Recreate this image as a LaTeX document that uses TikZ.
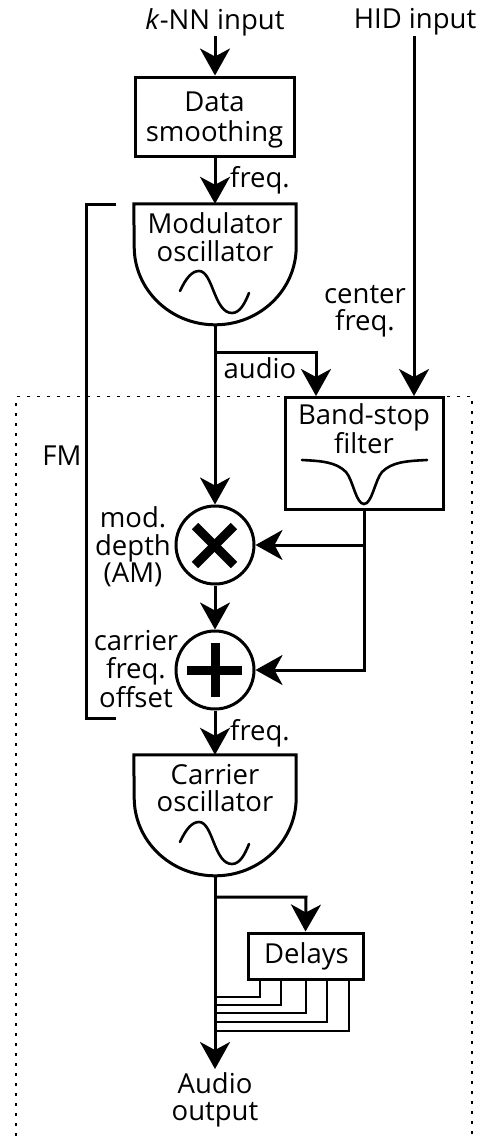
\documentclass[tikz,border=0pt]{standalone}
\usepackage{fontspec}
\setmainfont{Open Sans}
\usetikzlibrary{arrows.meta}
\tikzset{
  wire/.style={line width=3pt,line join=miter},
  flow/.style={wire,-{Stealth[length=27pt,width=30pt,inset=8pt]},shorten >=0pt},
  thin wire/.style={line width=2.4pt},
  lbl/.style={inner sep=0pt,align=center,font=\fontsize{27.5}{27.5}\selectfont},
  boxed/.style={draw,line width=3pt,inner sep=0pt,minimum width=#1},
  osc/.style={inner sep=0pt,minimum width=162pt,minimum height=121pt},
  sum/.style={circle,draw,line width=3pt,inner sep=0pt,minimum size=78pt,fill=white},
  glyph/.style={line width=9pt},
  curve/.style={line width=2.6pt,line cap=round},
  region/.style={line width=1.2pt,dash pattern=on 3pt off 7pt},
}
\begin{document}
\begin{tikzpicture}[x=1pt,y=-1pt]
\useasboundingbox (0,0) rectangle (486,1136);
% dotted region
\draw[region] (16,1136) -- (16,396.5) -- (472,396.5) -- (472,1136);
% FM bracket
\draw[wire] (116,204) -- (86,204) -- (86,718) -- (116,718);
\node[lbl] (fm) at (62,456) {FM};
% inputs
\node[lbl] (knn) at (215,22) {\textit{k}-NN input};
\node[lbl] (hid) at (415,22) {HID input};
% Data smoothing
\node[boxed=159pt,minimum height=79pt] (smooth) at (214.5,116.5) {};
\node[lbl,font=\fontsize{27.5}{29.5}\selectfont] (smootht) at (214.5,120) {Data\\smoothing};
% Modulator
\node[osc] (mod) at (215,264.5) {};
\draw[wire] (mod.north west) -- (mod.north east) -- ++(0,43) arc[start angle=0,end angle=-180,x radius=81pt,y radius=78pt] -- cycle;
\node[lbl] (modt) at (215,237) {Modulator\\oscillator};
\draw[curve] (180,291) .. controls (186,278) and (192,271) .. (199,271) .. controls (213,271) and (214,313) .. (232,313) .. controls (240,313) and (245,303) .. (249,293);
% band-stop
\node[boxed=158pt,minimum height=112pt] (bs) at (364,453) {};
\node[lbl] (bst) at (364,429) {Band-stop\\filter};
\draw[curve] (302,460) .. controls (322,461) and (336,462) .. (346,472) .. controls (353,480) and (356,504) .. (364,504) .. controls (372,504) and (375,480) .. (382,472) .. controls (392,462) and (406,461) .. (427,460);
% circles
\node[sum] (mul) at (215,545) {};
\node[sum] (add) at (215,670) {};
\draw[glyph] (195,526) -- (234,565);
\draw[glyph] (234,526) -- (195,565);
\draw[glyph] (187,670) -- (242,670);
\draw[glyph] (215,643) -- (215,697);
% labels
\node[lbl] (audio) at (260,368) {audio};
\node[lbl] (cf) at (365,311) {center\\freq.};
\node[lbl] (md) at (133,547) {mod.\\depth\\(AM)};
\node[lbl] (ofs) at (136,669) {carrier\\freq.\\offset};
\node[lbl] (f1) at (260,180) {freq.};
\node[lbl] (f2) at (260,733) {freq.};
% Carrier
\node[osc] (car) at (215,815.5) {};
\draw[wire] (car.north west) -- (car.north east) -- ++(0,43) arc[start angle=0,end angle=-180,x radius=81pt,y radius=78pt] -- cycle;
\node[lbl] (cart) at (215,788) {Carrier\\oscillator};
\draw[curve] (180,842) .. controls (186,829) and (192,822) .. (199,822) .. controls (213,822) and (214,864) .. (232,864) .. controls (240,864) and (245,854) .. (249,844);
% Delays
\node[boxed=115pt,minimum height=46pt] (del) at (305.5,956) {};
\node[lbl] (delt) at (306.5,956) {Delays};
% output
\node[lbl] (out) at (215,1100) {Audio\\output};
% connectors
\draw[flow] (knn.south) -- (knn.south |- smooth.north);
\draw[flow] (knn.south |- smooth.south) -- (mod.north);
\coordinate (hidin) at (414,36);
\coordinate (bshid) at (414,396);
\draw[flow] (hidin) -- (bshid);
\coordinate (j1) at (215,352);
\draw[wire] (mod.south) -- (j1);
\draw[flow] (j1) -- (mul.north);
\coordinate (bsin) at (316,396);
\draw[flow] (j1) -- (316,352) -- (bsin);
\draw[flow] (mul.south) -- (add.north);
\coordinate (j2) at (364,545);
\draw[wire] (bs.south) -- (j2);
\draw[flow] (j2) -- (mul.east);
\draw[flow] (j2) -- (364,670) -- (add.east);
\draw[flow] (add.south) -- (car.north);
\coordinate (j3) at (215,897);
\coordinate (outin) at (215,1069);
\draw[wire] (car.south) -- (j3);
\draw[flow] (j3) -- (306,897) -- (del.north);
\draw[flow] (j3) -- (outin);
\foreach \x/\y in {260/997,281/1005,306/1013,327/1022,349/1031}
  \draw[thin wire] (\x,979) -- (\x,\y) -- (215,\y);
\end{tikzpicture}
\end{document}
